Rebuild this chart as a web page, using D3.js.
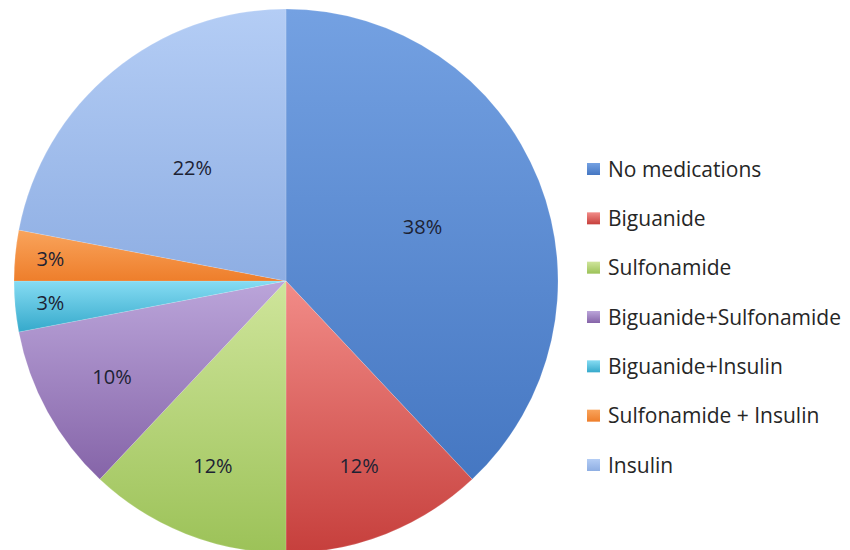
<!DOCTYPE html>
<html>
<head>
<meta charset="utf-8">
<script src="https://cdn.jsdelivr.net/npm/d3@7"></script>
<style>
  body { margin: 0; background: #fff; }
  svg { display: block; }
</style>
</head>
<body>
<div id="chart"></div>
<script>
let width = 850,
    height = 550;

const categories = ["No medications", "Biguanide", "Sulfonamide", "Biguanide+Sulfonamide",
                    "Biguanide+Insulin", "Sulfonamide + Insulin", "Insulin"];
const values = [38, 12, 12, 10, 3, 3, 22];
const labels = ["38%", "12%", "12%", "10%", "3%", "3%", "22%"];
const topColors = ["#74a1e2", "#f28c88", "#cfe59b", "#bba5da", "#86dcf3", "#f9a45c", "#b4cdf5"];
const bottomColors = ["#4577c2", "#c63f3c", "#9cc258", "#8564a8", "#35a9cb", "#ee7e2b", "#8eaee3"];

const cx = 286, cy = 281, radius = 272;

const svg = d3.select("#chart").append("svg")
    .attr("width", width)
    .attr("height", height);

const defs = svg.append("defs");

categories.forEach((c, i) => {
    const grad = defs.append("linearGradient")
        .attr("id", "grad" + i)
        .attr("x1", 0).attr("y1", 0)
        .attr("x2", 0).attr("y2", 1);
    grad.append("stop").attr("offset", "0%").attr("stop-color", topColors[i]);
    grad.append("stop").attr("offset", "100%").attr("stop-color", bottomColors[i]);
});

const pie = d3.pie().sort(null).value(d => d)(values);

const arc = d3.arc().innerRadius(0).outerRadius(radius);

const g = svg.append("g").attr("transform", `translate(${cx}, ${cy})`);

g.selectAll("path")
    .data(pie)
    .enter()
    .append("path")
    .attr("d", arc)
    .attr("fill", (d, i) => `url(#grad${i})`)
    .attr("stroke", "rgba(255,255,255,0.25)")
    .attr("stroke-width", 0.6);

// labels sit further out on the thin slices, like Excel's best fit
const labelPos = d => d.data >= 20 ? 0.54 : d.data >= 10 ? 0.73 : 0.87;

g.selectAll("text")
    .data(pie)
    .enter()
    .append("text")
    .attr("transform", d => {
        const r = radius * labelPos(d);
        const a = (d.startAngle + d.endAngle) / 2;
        return `translate(${r * Math.sin(a)}, ${-r * Math.cos(a)})`;
    })
    .attr("text-anchor", "middle")
    .attr("dy", "0.35em")
    .attr("font-family", "'Open Sans', sans-serif")
    .attr("font-size", 20)
    .attr("fill", "#1c2233")
    .text((d, i) => labels[i]);

const legend = svg.append("g").attr("transform", "translate(587, 169)");

const ly = d3.scalePoint().domain(categories).range([0, 296]);

const item = legend.selectAll("g")
    .data(categories)
    .enter()
    .append("g")
    .attr("transform", d => `translate(0, ${ly(d)})`);

item.append("rect")
    .attr("x", 0)
    .attr("y", -6)
    .attr("width", 13)
    .attr("height", 12)
    .attr("fill", (d, i) => `url(#grad${i})`);

item.append("text")
    .attr("x", 21)
    .attr("dy", "0.36em")
    .attr("font-family", "'Open Sans', sans-serif")
    .attr("font-size", 21)
    .attr("fill", "#262626")
    .text(d => d);
</script>
</body>
</html>
